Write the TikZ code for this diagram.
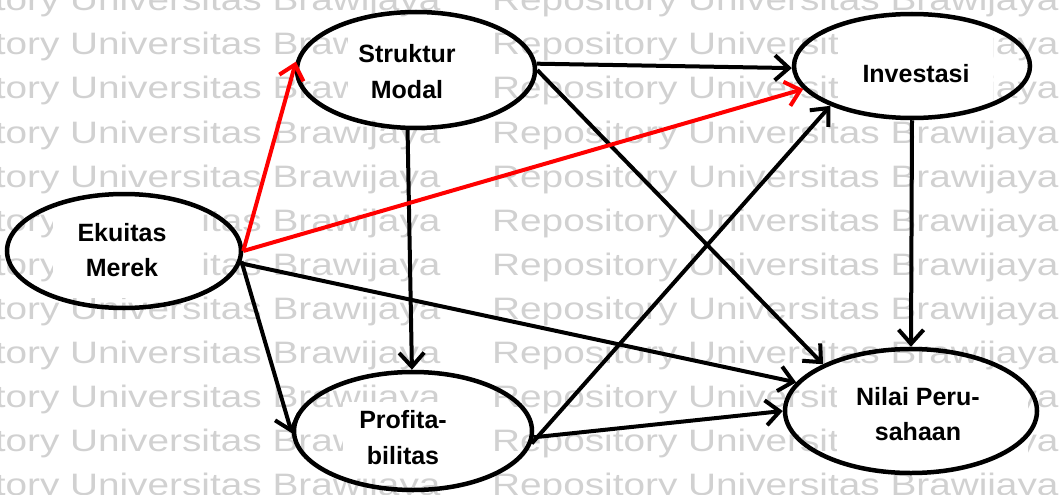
\documentclass[tikz,border=0pt]{standalone}
\usepackage{fontspec}
\setmainfont{Liberation Sans}
\newfontfamily\wmfont{Liberation Sans}
\usetikzlibrary{shapes.geometric,arrows.meta}
\tikzset{
  var/.style={draw,ellipse,line width=4.5pt,inner sep=0pt},
  lbl/.style={align=center,inner sep=0pt,font=\fontsize{25}{35.5}\selectfont\bfseries},
  link/.style={line width=4pt,-{Straight Barb[length=14pt,width=25pt]}},
  redlink/.style={link,draw=red},
  wm/.style={anchor=base west,inner sep=0pt,text=black!18,font=\fontsize{31}{31}\wmfont}
}
\begin{document}
\begin{tikzpicture}[x=1pt,y=-1pt]
	\useasboundingbox (0,0) rectangle (1060,495);
	% Watermark
	\begin{scope}
		\clip (0,0) rectangle (1060,495);
		\foreach \r in {0,...,11}
			\foreach \c in {0,1}
				\node[wm] (wm-\r-\c) at (-126+618*\c,11+44*\r) {\scalebox{1.25}[1]{Repository Universitas Brawijaya}};
	\end{scope}
	% Text boxes
	\foreach \xa/\ya/\xb/\yb in {348/22/493/118, 53/203/200/298, 838/22/993/105, 343/402/492/477, 837/375/1028/458}
		\fill[white] (\xa,\ya) rectangle (\xb,\yb);
	% Labels
	\node[lbl] (tEkuitas) at (122,250) {Ekuitas\\Merek};
	\node[lbl] (tStruktur) at (407,71.5) {Struktur\\Modal};
	\node[lbl] (tInvest) at (916,74) {Investasi};
	\node[lbl] (tProfit) at (403,437.5) {Profita-\\bilitas};
	\node[lbl] (tNilai) at (918,414) {Nilai Peru-\\sahaan};
	% Ellipses
	\node[var,minimum width=234pt,minimum height=114pt] (ekuitas) at (124,251) {};
	\node[var,minimum width=238pt,minimum height=116pt] (struktur) at (416,70) {};
	\node[var,minimum width=236pt,minimum height=104pt] (invest) at (912,66) {};
	\node[var,minimum width=238pt,minimum height=118pt] (profit) at (413,431) {};
	\node[var,minimum width=252pt,minimum height=124pt] (nilai) at (911,411) {};
	% Arrows
	\draw[link] (struktur.3) -- (invest.181);
	\draw[link] (struktur.east) -- (nilai.152);
	\draw[link] (struktur.-98) -- (profit.91);
	\draw[link] (ekuitas.-5) -- (profit.181);
	\draw[link] (ekuitas.-6) -- (nilai.166);
	\draw[link] (profit.-6) -- (invest.206);
	\draw[link] (profit.-3) -- (nilai.west);
	\draw[link] (invest.south) -- (nilai.north);
	\draw[redlink] (ekuitas.east) -- (struktur.176);
	\draw[redlink] (ekuitas.east) -- (invest.192);
\end{tikzpicture}
\end{document}
